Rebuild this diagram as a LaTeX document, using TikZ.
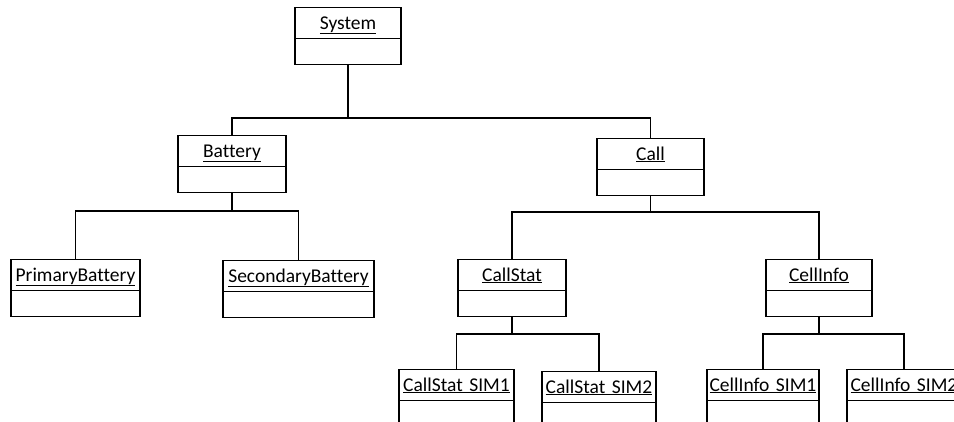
\documentclass[tikz,border=0pt]{standalone}
\usepackage{fontspec}
\setmainfont[Ligatures=NoCommon]{Carlito}
\usetikzlibrary{shapes.multipart,positioning,calc}
\tikzset{
  classbox/.style={draw, rectangle split, rectangle split parts=2,
                   text width=#1, align=center, anchor=north,
                   inner xsep=0pt, inner ysep=0pt, line width=1.1pt,
                   font=\fontsize{19.5}{22}\selectfont},
  classbox/.default=108pt,
  link/.style={line width=1.1pt},
}
\newcommand{\cname}[1]{\underline{#1}\rule[-9pt]{0pt}{30pt}\nodepart{second}\rule{0pt}{25pt}}

\begin{document}
\begin{tikzpicture}[x=1pt,y=-1pt]
  \clip (0,0) rectangle (954,422);
  % class boxes
  \node[classbox=106pt] (system)    at (348,7)     {\cname{System}};
  \node[classbox]       (battery)   at (232,135)   {\cname{Battery}};
  \node[classbox=107pt] (call)      at (650.5,138) {\cname{Call}};
  \node[classbox=129pt] (primary)   at (75.5,259)  {\cname{PrimaryBattery}};
  \node[classbox=151pt] (secondary) at (298.5,260) {\cname{SecondaryBattery}};
  \node[classbox]       (callstat)  at (512,259)   {\cname{CallStat}};
  \node[classbox=106pt] (cellinfo)  at (819,259)   {\cname{CellInfo}};
  \node[classbox=115pt] (callstatA) at (456.5,369) {\cname{CallStat SIM1}};
  \node[classbox=114pt] (callstatB) at (599,371)   {\cname{CallStat SIM2}};
  \node[classbox=112pt] (cellinfoA) at (763,369)   {\cname{CellInfo SIM1}};
  \node[classbox=114pt] (cellinfoB) at (904,369)   {\cname{CellInfo SIM2}};
  % tree links
  \coordinate (sysjoin)  at (348,118);
  \coordinate (batjoin)  at (232,211);
  \coordinate (calljoin) at (650.5,212);
  \coordinate (statjoin) at (512,334);
  \coordinate (celljoin) at (819,334);
  \draw[link] (system.south) -- (sysjoin);
  \draw[link] (battery.north) |- (sysjoin) -| (call.north);
  \draw[link] (battery.south) -- (batjoin);
  \draw[link] (primary.north) |- (batjoin) -| (secondary.north);
  \draw[link] (call.south) -- (calljoin);
  \draw[link] (callstat.north) |- (calljoin) -| (cellinfo.north);
  \draw[link] (callstat.south) -- (statjoin);
  \draw[link] (callstatA.north) |- (statjoin) -| (callstatB.north);
  \draw[link] (cellinfo.south) -- (celljoin);
  \draw[link] (cellinfoA.north) |- (celljoin) -| (cellinfoB.north);
\end{tikzpicture}
\end{document}
